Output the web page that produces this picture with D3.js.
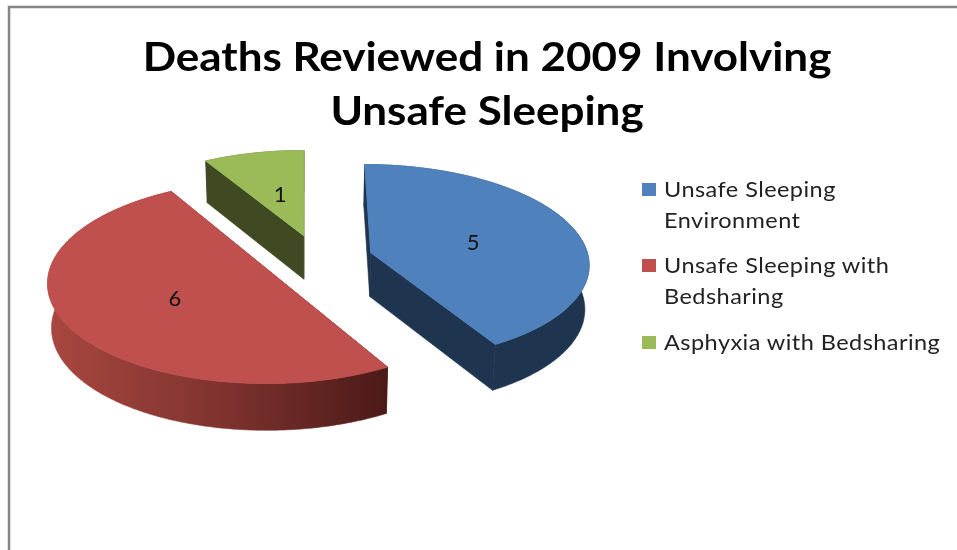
<!DOCTYPE html>
<html>
<head>
<meta charset="utf-8">
<script src="https://cdn.jsdelivr.net/npm/d3@7"></script>
<style>
  html, body { margin: 0; padding: 0; background: #fff; overflow: hidden; }
  svg { display: block; filter: blur(0.45px); }
  .title { font: bold 40px Lato, sans-serif; fill: #000; text-anchor: middle; }
  .legend-text { font: 21px Lato, sans-serif; fill: #222; letter-spacing: 0.4px; }
  .value { font: 22px Lato, sans-serif; fill: #111; text-anchor: middle; }
</style>
</head>
<body>
<div id="chart"></div>
<script>
const categories = ['Unsafe Sleeping Environment', 'Unsafe Sleeping with Bedsharing', 'Asphyxia with Bedsharing']
const values = [5, 6, 1]
const titleLines = ['Deaths Reviewed in 2009 Involving', 'Unsafe Sleeping']
const legendLines = [['Unsafe Sleeping', 'Environment'], ['Unsafe Sleeping with', 'Bedsharing'], ['Asphyxia with Bedsharing']]
const topColors = ['#4f81bd', '#c0504d', '#9bbb59']
const wallColors = ['#1f344f', 'url(#red-wall)', '#3f4a22']

const dms = { width: 957, height: 550 }

// pie geometry, worked out from the picture
const pieDms = {
  cx: 318, cy: 259,     // pie centre on screen
  vanishX: 305,         // x the perspective converges on
  radius: 218,
  explode: 55,
  tilt: 0.45,
  persp: 0.10,
  depth: 44,
  bottomShrink: 0.985
}

const svg = d3.select('#chart').append('svg')
    .attr('width', dms.width)
    .attr('height', dms.height)

const grad = svg.append('defs').append('linearGradient')
    .attr('id', 'red-wall')
    .attr('gradientUnits', 'userSpaceOnUse')
    .attr('x1', 50).attr('x2', 387).attr('y1', 0).attr('y2', 0)
grad.append('stop').attr('offset', 0).attr('stop-color', '#a8473f')
grad.append('stop').attr('offset', 0.5).attr('stop-color', '#80332f')
grad.append('stop').attr('offset', 1).attr('stop-color', '#4b1a18')

// frame
svg.append('path')
    .attr('d', `M9,${dms.height + 5} V7 H${dms.width + 5}`)
    .attr('fill', 'none')
    .attr('stroke', '#868686')
    .attr('stroke-width', 2.5)

const color = d3.scaleOrdinal(categories, topColors)
const wallColor = d3.scaleOrdinal(categories, wallColors)

const slices = d3.pie().sort(null)(values)
const offsetArc = d3.arc().innerRadius(pieDms.explode).outerRadius(pieDms.explode)
const labelArc = d3.arc().innerRadius(0).outerRadius(pieDms.radius * 0.98)
const line = d3.line()

const scaleAt = v => 1 / (1 - pieDms.persp * v / pieDms.radius)

// plane coords (u right, v towards viewer) to screen
function project(u, v, lower) {
  const s = scaleAt(v)
  let x = pieDms.vanishX + (pieDms.cx - pieDms.vanishX + u) * s
  let y = pieDms.cy + pieDms.tilt * v * s
  if (lower) {
    x = pieDms.vanishX + (x - pieDms.vanishX) * pieDms.bottomShrink
    y += pieDms.depth * (0.5 + 0.5 * s)
  }
  return [x, y]
}

function rimPoints(d, lower) {
  const [ou, ov] = offsetArc.centroid(d)
  const n = Math.ceil((d.endAngle - d.startAngle) / 0.01)
  return d3.range(n + 1).map(i => {
    const a = d.startAngle + (d.endAngle - d.startAngle) * i / n
    return project(ou + pieDms.radius * Math.sin(a), ov - pieDms.radius * Math.cos(a), lower)
  })
}

function centerPoint(d, lower) {
  const [ou, ov] = offsetArc.centroid(d)
  return project(ou, ov, lower)
}

const pieG = svg.append('g').attr('id', 'pie')

const sliceG = pieG.selectAll('g')
    .data(slices)
    .join('g')

// cut faces, rim wall, then the top
sliceG.each(function(d, i) {
  const g = d3.select(this)
  const top = rimPoints(d, false)
  const bot = rimPoints(d, true)
  const c = centerPoint(d, false)
  const cb = centerPoint(d, true)
  const fill = wallColor(categories[i])
  const wall = pts => g.append('path')
      .attr('d', line(pts) + 'Z')
      .attr('fill', fill)
      .attr('stroke', fill)      // hides the seam between faces
      .attr('stroke-width', 0.6)
  wall([c, top[0], bot[0], cb])
  wall([c, top[top.length - 1], bot[bot.length - 1], cb])
  wall(top.concat(bot.slice().reverse()))
  g.append('path')
      .attr('d', line([c].concat(top)) + 'Z')
      .attr('fill', color(categories[i]))
      .attr('stroke', color(categories[i]))   // covers the wall stroke along the back
      .attr('stroke-width', 1)
})

// value labels
const labelPos = d => {
  const [ou, ov] = offsetArc.centroid(d)
  const [lu, lv] = labelArc.centroid(d)
  return project(ou + lu, ov + lv)
}

pieG.selectAll('text')
    .data(slices)
    .join('text')
    .attr('class', 'value')
    .attr('x', d => labelPos(d)[0] + 2)
    .attr('y', d => labelPos(d)[1] + 9)
    .text(d => d.value)

// title, Lato is narrower than the original face so stretch it
svg.append('g')
    .attr('transform', 'translate(487,0) scale(1.1,1)')
    .selectAll('text')
    .data(titleLines)
    .join('text')
    .attr('class', 'title')
    .attr('x', 0)
    .attr('y', (d, i) => 71 + i * 54)
    .text(d => d)

// legend
const legendY = [197, 273, 350]
const legend = svg.append('g').attr('id', 'legend').selectAll('g')
    .data(categories)
    .join('g')

legend.append('rect')
    .attr('x', 642)
    .attr('y', (d, i) => legendY[i] - 14)
    .attr('width', 14)
    .attr('height', 13)
    .attr('fill', d => color(d))

legend.each(function(d, i) {
  d3.select(this).append('g')
      .attr('transform', 'translate(664,0) scale(1.12,1)')
      .selectAll('text')
      .data(legendLines[i])
      .join('text')
      .attr('class', 'legend-text')
      .attr('x', 0)
      .attr('y', (t, j) => legendY[i] + j * 31)
      .text(t => t)
})
</script>
</body>
</html>
